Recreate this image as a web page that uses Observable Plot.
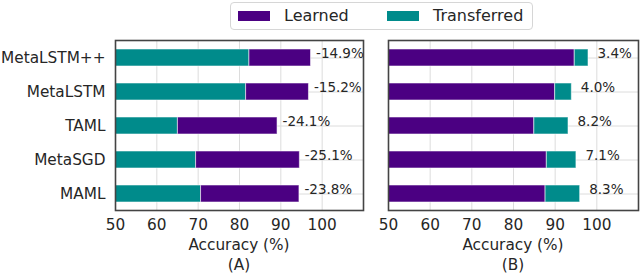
<!DOCTYPE html>
<html>
<head>
<meta charset="utf-8">
<script src="https://cdn.jsdelivr.net/npm/d3@7"></script>
<script src="https://cdn.jsdelivr.net/npm/@observablehq/plot@0.6"></script>
<style>
  html, body { margin: 0; padding: 0; background: #fff; }
  #root { position: relative; width: 640px; height: 274px; overflow: hidden; font-family: "DejaVu Sans", sans-serif; color: #262626; }
  .panel { position: absolute; top: 0; }
  .lbl { position: absolute; text-align: center; font-size: 15.3px; line-height: 18px; white-space: nowrap; }
  #legend { position: absolute; left: 230px; top: 2px; width: 303px; height: 28px; border: 1px solid #d6d6d6; border-radius: 4px; background: #fff; box-sizing: border-box; z-index: 2; }
  .sw { position: absolute; top: 8px; width: 32px; height: 10px; }
  .lt { position: absolute; top: 3px; font-size: 16px; line-height: 20px; white-space: nowrap; }
</style>
</head>
<body>
<div id="root"></div>
<script>
const models = ["MetaLSTM++", "MetaLSTM", "TAML", "MetaSGD", "MAML"];
const learnedA = [97.3, 96.8, 89.2, 94.6, 94.5];
const transferredA = [82.4, 81.6, 65.1, 69.5, 70.7];
const labelsA = ["-14.9%", "-15.2%", "-24.1%", "-25.1%", "-23.8%"];
const learnedB = [94.7, 90.0, 85.0, 88.0, 87.7];
const transferredB = [98.0, 94.0, 93.2, 95.1, 96.0];
const labelsB = ["3.4%", "4.0%", "8.2%", "7.1%", "8.3%"];
const xTicks = [50, 60, 70, 80, 90, 100];
const xDomain = [50, 110];
const seriesNames = ["Learned", "Transferred"];
const seriesColors = ["#4b0082", "#008b8b"];
const panelNames = ["(A)", "(B)"];
const axisLabel = "Accuracy (%)";

const base = xDomain[0];
const rowsA = models.map((m, i) => ({model: m, learned: learnedA[i], transferred: transferredA[i], label: labelsA[i]}));
const rowsB = models.map((m, i) => ({model: m, learned: learnedB[i], transferred: transferredB[i], label: labelsB[i]}));

const barStyle = {stroke: "white", strokeOpacity: 0.55, strokeWidth: 1};

function panel({width, marginLeft, showY, marks}) {
  return Plot.plot({
    width, height: 274,
    marginTop: 40, marginBottom: 64, marginLeft, marginRight: 2,
    style: {fontFamily: "DejaVu Sans", fontSize: "15.3px", color: "#262626", background: "transparent", overflow: "visible"},
    x: {domain: xDomain, ticks: xTicks, tickSize: 0, tickPadding: 9, label: null},
    y: {domain: models, paddingInner: 0.5, paddingOuter: 0.25, tickSize: 0, tickPadding: 10, label: null, axis: showY ? "left" : null},
    marks: [
      Plot.gridX(xTicks, {stroke: "#dcdcdc", strokeOpacity: 1, strokeWidth: 1}),
      Plot.gridY(models, {stroke: "#dcdcdc", strokeOpacity: 1, strokeWidth: 1}),
      ...marks,
      Plot.frame({stroke: "#444", strokeWidth: 1.6})
    ]
  });
}

const plotA = panel({
  width: 365, marginLeft: 115, showY: true,
  marks: [
    Plot.barX(rowsA, {y: "model", x1: () => base, x2: "transferred", fill: seriesColors[1], ...barStyle}),
    Plot.barX(rowsA, {y: "model", x1: "transferred", x2: "learned", fill: seriesColors[0], ...barStyle}),
    Plot.text(rowsA, {y: "model", x: "learned", text: "label", textAnchor: "start", dx: 5, dy: -4, fontSize: 13.5, fill: "#262626"})
  ]
});
const plotB = panel({
  width: 270, marginLeft: 18, showY: false,
  marks: [
    Plot.barX(rowsB, {y: "model", x1: () => base, x2: "learned", fill: seriesColors[0], ...barStyle}),
    Plot.barX(rowsB, {y: "model", x1: "learned", x2: "transferred", fill: seriesColors[1], ...barStyle}),
    Plot.text(rowsB, {y: "model", x: "transferred", text: "label", textAnchor: "start", dx: 9, dy: -4, fontSize: 13.5, fill: "#262626"})
  ]
});

const root = document.getElementById("root");
const wrapA = document.createElement("div"); wrapA.className = "panel"; wrapA.style.left = "0px"; wrapA.appendChild(plotA);
const wrapB = document.createElement("div"); wrapB.className = "panel"; wrapB.style.left = "370px"; wrapB.appendChild(plotB);
root.appendChild(wrapA); root.appendChild(wrapB);

// axis titles and panel names
[[239, panelNames[0]], [513, panelNames[1]]].forEach(([cx, name]) => {
  const a = document.createElement("div"); a.className = "lbl";
  a.style.left = (cx - 70) + "px"; a.style.width = "140px"; a.style.top = "236px"; a.textContent = axisLabel;
  const b = document.createElement("div"); b.className = "lbl";
  b.style.left = (cx - 70) + "px"; b.style.width = "140px"; b.style.top = "256px"; b.textContent = name;
  root.appendChild(a); root.appendChild(b);
});

// legend
const legend = document.createElement("div"); legend.id = "legend";
const swX = [7, 156], txX = [53, 202];
seriesNames.forEach((n, i) => {
  const s = document.createElement("div"); s.className = "sw"; s.style.left = swX[i] + "px"; s.style.background = seriesColors[i];
  const t = document.createElement("div"); t.className = "lt"; t.style.left = txX[i] + "px"; t.textContent = n;
  legend.appendChild(s); legend.appendChild(t);
});
root.appendChild(legend);
</script>
</body>
</html>
